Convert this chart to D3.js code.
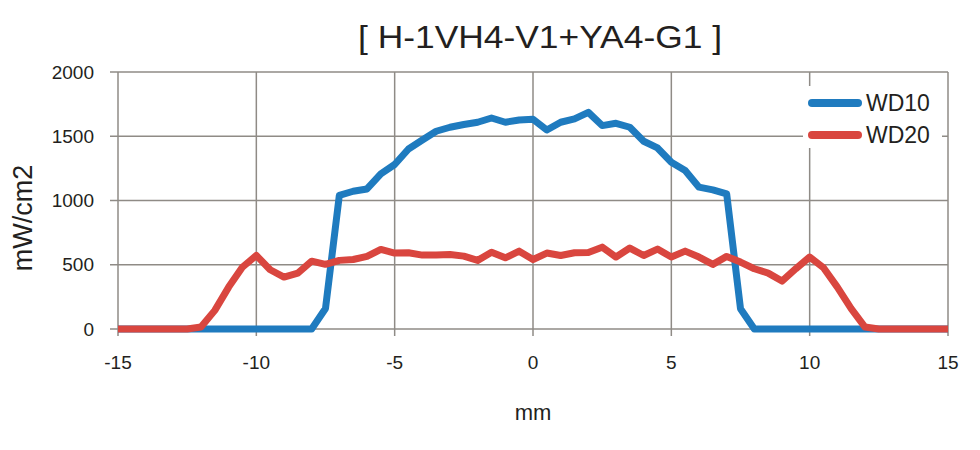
<!DOCTYPE html>
<html><head><meta charset="utf-8">
<script src="https://cdn.jsdelivr.net/npm/d3@7"></script>
<style>body{margin:0;background:#fff}svg{display:block;font-family:"Liberation Sans",Arial,sans-serif}</style>
</head><body><svg id="c" width="980" height="450"></svg>
<script>
const xs = d3.range(-15, 15.01, 0.5);
const wd10 = [0,0,0,0,0,0,0,0,0,0,0,0,0,0,
  0,160,1040,1072,1090,1207,1280,1401,1471,1539,1570,1591,1609,1642,1609,1627,
  1632,1549,1609,1635,1686,1583,1601,1570,1461,1409,1298,1233,1104,1083,1052,158,
  0,0,0,0,0,0,0,0,0,0,0,0,0,0,0];
const wd20 = [0,0,0,0,0,0,15,145,326,482,572,461,404,435,528,503,534,541,565,619,591,593,575,575,580,567,534,598,554,606,
  541,591,572,593,596,637,560,630,572,622,560,606,560,503,565,521,469,435,373,469,560,477,326,158,15,0,0,0,0,0,0];
const seriesNames = ["WD10","WD20"];
const colors = ["#1f7bbf","#d9463f"];
const xTicks = [-15,-10,-5,0,5,10,15];
const yTicks = [0,500,1000,1500,2000];
const title = "[ H-1VH4-V1+YA4-G1 ]";

const svg = d3.select("#c");
const x = d3.scaleLinear().domain([-15,15]).range([118,948]);
const y = d3.scaleLinear().domain([0,2000]).range([329,72]);
const grid = "#8f8b86";

svg.append("g").selectAll("line").data(xTicks).join("line")
  .attr("x1",d=>x(d)).attr("x2",d=>x(d)).attr("y1",y(2000)).attr("y2",y(0)+7)
  .attr("stroke",grid).attr("stroke-width",1.5);
svg.append("g").selectAll("line").data(yTicks).join("line")
  .attr("x1",x(-15)-8).attr("x2",x(15)).attr("y1",d=>y(d)).attr("y2",d=>y(d))
  .attr("stroke",grid).attr("stroke-width",1.5);

svg.append("g").selectAll("text").data(yTicks).join("text")
  .attr("x",94).attr("y",d=>y(d)).attr("dy","0.35em").attr("text-anchor","end")
  .attr("font-size",19).attr("fill","#231f20").text(d=>d);
svg.append("g").selectAll("text").data(xTicks).join("text")
  .attr("x",d=>x(d)).attr("y",362).attr("dy","0.35em").attr("text-anchor","middle")
  .attr("font-size",19).attr("fill","#231f20").text(d=>d);

svg.append("text").attr("x",533).attr("y",412).attr("dy","0.35em").attr("text-anchor","middle")
  .attr("font-size",22).attr("fill","#231f20").text("mm");
svg.append("text").attr("transform","translate(23,218) rotate(-90)").attr("dy","0.35em")
  .attr("text-anchor","middle").attr("font-size",27).attr("fill","#231f20").text("mW/cm2");
svg.append("text").attr("x",540).attr("y",37).attr("dy","0.35em").attr("text-anchor","middle")
  .attr("font-size",32).attr("fill","#231f20").attr("textLength",364).attr("lengthAdjust","spacingAndGlyphs").text(title);

const line = d3.line().x((d,i)=>x(xs[i])).y(d=>y(d));
[wd10, wd20].forEach((s,k)=>{
  svg.append("path").datum(s).attr("d",line).attr("fill","none")
    .attr("stroke",colors[k]).attr("stroke-width",7).attr("stroke-linejoin","round");
});

svg.append("rect").attr("x",803).attr("y",86).attr("width",139).attr("height",62).attr("fill","#fff");
seriesNames.forEach((n,k)=>{
  const yy = 103 + k*32;
  svg.append("line").attr("x1",812).attr("x2",858).attr("y1",yy).attr("y2",yy)
    .attr("stroke",colors[k]).attr("stroke-width",8).attr("stroke-linecap","round");
  svg.append("text").attr("x",866).attr("y",yy).attr("dy","0.35em").attr("font-size",23)
    .attr("fill","#231f20").text(n);
});
</script></body></html>
